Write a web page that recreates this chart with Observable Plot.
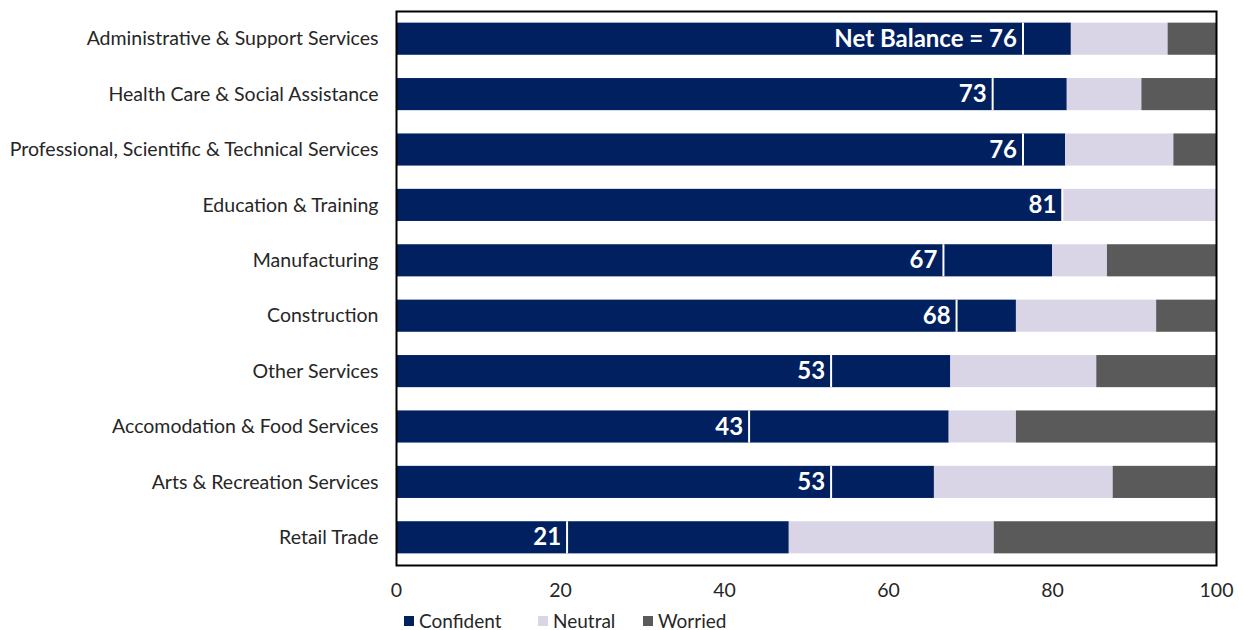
<!DOCTYPE html>
<html>
<head>
<meta charset="utf-8">
<script src="https://cdn.jsdelivr.net/npm/d3@7"></script>
<script src="https://cdn.jsdelivr.net/npm/@observablehq/plot@0.6"></script>
<style>
  html, body { margin: 0; background: #fff; font-family: Lato, "Open Sans", sans-serif; overflow: hidden; }
  #legend { position: relative; height: 26px; font-size: 19px; line-height: 16px; color: #262626; }
  .sw { position: absolute; top: 9px; display: flex; align-items: center; }
  .sw span.box { display: inline-block; width: 10px; height: 10px; margin-right: 5px; }
</style>
</head>
<body>
<div id="chart"></div>
<div id="legend"></div>
<script>
const categories = [
  "Administrative & Support Services",
  "Health Care & Social Assistance",
  "Professional, Scientific & Technical Services",
  "Education & Training",
  "Manufacturing",
  "Construction",
  "Other Services",
  "Accomodation & Food Services",
  "Arts & Recreation Services",
  "Retail Trade"
];
const confident = [82.3, 81.8, 81.6, 81.2, 80.0, 75.6, 67.6, 67.4, 65.6, 47.9];
const neutral   = [11.8,  9.1, 13.2, 18.8,  6.7, 17.1, 17.8,  8.2, 21.8, 25.0];
const worried   = [ 5.9,  9.1,  5.2,  0.0, 13.3,  7.3, 14.6, 24.4, 12.6, 27.1];
const netLabels = ["Net Balance = 76", "73", "76", "81", "67", "68", "53", "43", "53", "21"];
const series = ["Confident", "Neutral", "Worried"];
const colors = ["#00205F", "#D9D5E6", "#5A5A5A"];
const xTicks = [0, 20, 40, 60, 80, 100];

const long = [];
categories.forEach((c, i) => {
  long.push({cat: c, series: "Confident", value: confident[i]});
  long.push({cat: c, series: "Neutral", value: neutral[i]});
  long.push({cat: c, series: "Worried", value: worried[i]});
});
const nets = categories.map((c, i) => ({cat: c, net: confident[i] - worried[i], label: netLabels[i]}));

const chart = Plot.plot({
  width: 1243,
  height: 604,
  marginLeft: 396,
  marginRight: 27,
  marginTop: 11,
  marginBottom: 39,
  style: {fontFamily: "Lato, 'Open Sans', sans-serif", fontSize: "19.5px", color: "#262626", background: "#fff"},
  x: {domain: [0, 100], ticks: xTicks, tickSize: 0, tickPadding: 18, label: null},
  y: {domain: categories, paddingInner: 0.42, paddingOuter: 0.21, round: false, tickSize: 0, tickPadding: 18, label: null},
  color: {domain: series, range: colors},
  marks: [
    Plot.barX(long, Plot.stackX({y: "cat", x: "value", fill: "series", order: series})),
    Plot.tickX(nets, {x: "net", y: "cat", stroke: "white", strokeWidth: 2}),
    Plot.text(nets, {x: "net", y: "cat", text: "label", textAnchor: "end", dx: -6, fill: "white", fontWeight: "bold", fontSize: 24}),
    Plot.frame({stroke: "black", strokeWidth: 2})
  ]
});
document.getElementById("chart").appendChild(chart);

const legend = document.getElementById("legend");
const lx = [404, 538, 643];
series.forEach((s, i) => {
  const d = document.createElement("div");
  d.className = "sw";
  d.style.left = lx[i] + "px";
  d.innerHTML = `<span class="box" style="background:${colors[i]}"></span><span>${s}</span>`;
  legend.appendChild(d);
});
</script>
</body>
</html>
